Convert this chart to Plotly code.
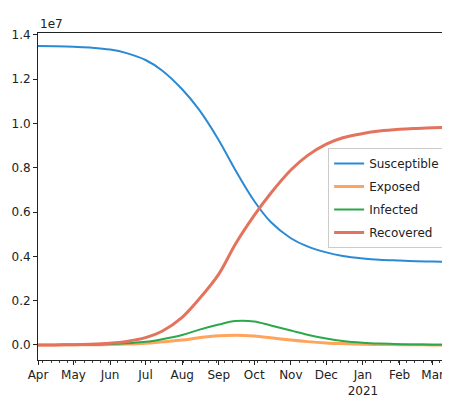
import plotly.graph_objects as go

dates = ["2020-04-01", "2020-04-15", "2020-05-01", "2020-05-15", "2020-06-01", "2020-06-15",
         "2020-07-01", "2020-07-15", "2020-08-01", "2020-08-15", "2020-09-01", "2020-09-15",
         "2020-10-01", "2020-10-15", "2020-11-01", "2020-11-15", "2020-12-01", "2020-12-15",
         "2021-01-01", "2021-01-15", "2021-02-01", "2021-02-15", "2021-03-01", "2021-03-13"]

susceptible = [1.350, 1.349, 1.347, 1.343, 1.334, 1.318, 1.287, 1.240, 1.155, 1.065, 0.925, 0.790,
               0.650, 0.555, 0.482, 0.445, 0.418, 0.402, 0.391, 0.385, 0.381, 0.378, 0.377, 0.376]
exposed = [0.0, 0.0002, 0.0005, 0.001, 0.002, 0.004, 0.008, 0.014, 0.022, 0.032, 0.041, 0.044,
           0.040, 0.032, 0.022, 0.015, 0.009, 0.006, 0.003, 0.002, 0.001, 0.0006, 0.0003, 0.0002]
infected = [0.0, 0.0002, 0.0005, 0.001, 0.004, 0.008, 0.014, 0.026, 0.045, 0.068, 0.092, 0.108,
            0.106, 0.088, 0.065, 0.046, 0.029, 0.018, 0.010, 0.006, 0.003, 0.002, 0.001, 0.0005]
recovered = [0.0, 0.0003, 0.001, 0.003, 0.008, 0.016, 0.033, 0.062, 0.125, 0.205, 0.320, 0.455,
             0.585, 0.685, 0.790, 0.855, 0.907, 0.936, 0.955, 0.966, 0.974, 0.978, 0.981, 0.983]

series_names = ["Susceptible", "Exposed", "Infected", "Recovered"]
series_colors = ["#2a8ad4", "#ffa45c", "#2ca84c", "#e4735e"]
series_widths = [2, 3, 2, 3]

tick_dates = ["2020-04-01", "2020-05-01", "2020-06-01", "2020-07-01", "2020-08-01", "2020-09-01",
              "2020-10-01", "2020-11-01", "2020-12-01", "2021-01-01", "2021-02-01", "2021-03-01"]
tick_labels = ["Apr", "May", "Jun", "Jul", "Aug", "Sep", "Oct", "Nov", "Dec", "Jan<br>2021", "Feb", "Mar"]
y_ticks = [0.0, 0.2, 0.4, 0.6, 0.8, 1.0, 1.2, 1.4]
y_labels = ["0.0", "0.2", "0.4", "0.6", "0.8", "1.0", "1.2", "1.4"]

fig = go.Figure()
for name, vals, col, w in zip(series_names, [susceptible, exposed, infected, recovered],
                              series_colors, series_widths):
    fig.add_trace(go.Scatter(x=dates, y=[v * 1e7 for v in vals], mode="lines", name=name,
                             legendgroup=name,
                             line=dict(color=col, width=w, shape="spline", smoothing=1.0)))

font = dict(family="DejaVu Sans", size=12, color="#222")
fig.update_layout(
    width=450, height=405,
    margin=dict(l=30, r=10, t=25, b=53),
    paper_bgcolor="white", plot_bgcolor="white",
    font=font,
    showlegend=True,
    legend=dict(x=0.993, y=0.648, xanchor="right", yanchor="top",
                bgcolor="rgba(255,255,255,0.9)", bordercolor="#ccc", borderwidth=1,
                font=dict(family="DejaVu Sans", size=12, color="#222"),
                itemwidth=30, tracegroupgap=4),
    xaxis=dict(range=["2020-04-01", "2021-03-14"], tickvals=tick_dates, ticktext=tick_labels,
               showgrid=False, zeroline=False, ticks="outside", ticklen=4, tickcolor="#222",
               showline=True, linecolor="#222", linewidth=1, mirror=True, automargin=False,
               minor=dict(ticks="outside", ticklen=2, tickcolor="#444", dtick=7 * 86400000,
                          tick0="2020-04-05", showgrid=False)),
    yaxis=dict(range=[-0.068e7, 1.409e7], tickvals=[v * 1e7 for v in y_ticks], ticktext=y_labels,
               showgrid=False, zeroline=False, ticks="outside", ticklen=4, tickcolor="#222",
               showline=True, linecolor="#222", linewidth=1, mirror=True, automargin=False),
    annotations=[dict(text="1e7", xref="paper", yref="paper", x=0.0, y=1.0, xanchor="left",
                      yanchor="bottom", showarrow=False, font=dict(family="DejaVu Sans", size=12, color="#222"))],
)
fig.write_html("out.html")
